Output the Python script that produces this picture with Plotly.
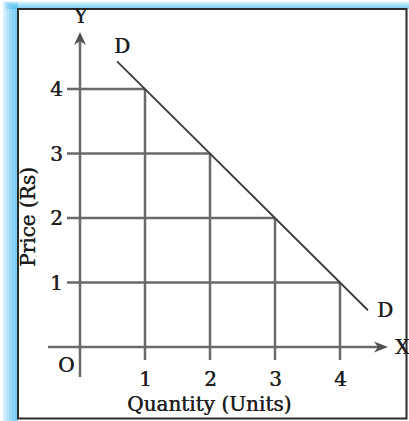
import plotly.graph_objects as go

# Demand schedule
quantity = [1, 2, 3, 4]
price = [4, 3, 2, 1]
# Demand curve drawn a little past the first and last points
curve_q = [0.57, 1, 2, 3, 4, 4.43]
curve_p = [4.43, 4, 3, 2, 1, 0.57]
x_ticks = ["1", "2", "3", "4"]
y_ticks = ["4", "3", "2", "1"]

W, H = 409, 421
X0, Y0, SX, SY = 80, 347, 65.0, 64.5   # origin pixel and pixels per unit


def qx(px):
    return (px - X0) / SX


def py(pxy):
    return (Y0 - pxy) / SY


def paper(px, pxy):
    return px / W, 1 - pxy / H


FONT = "DejaVu Serif"
TXT = "#1f1f1f"
GRID = "#6a6a6a"

fig = go.Figure()

# Dropped guide lines from each point on the curve to both axes
hx, hy, vx, vy = [], [], [], []
for q, p in zip(quantity, price):
    hx += [qx(67), q, None]
    hy += [p, p, None]
    vx += [q, q, None]
    vy += [py(360), p, None]
fig.add_trace(go.Scatter(x=hx, y=hy, mode="lines", line=dict(color=GRID, width=2.5),
                         hoverinfo="skip", showlegend=False))
fig.add_trace(go.Scatter(x=vx, y=vy, mode="lines", line=dict(color=GRID, width=2.5),
                         hoverinfo="skip", showlegend=False))

# Axes lines
fig.add_trace(go.Scatter(x=[qx(48), qx(378)], y=[0, 0], mode="lines",
                         line=dict(color=GRID, width=2.5), hoverinfo="skip", showlegend=False))
fig.add_trace(go.Scatter(x=[0, 0], y=[py(377), py(40)], mode="lines",
                         line=dict(color=GRID, width=2.5), hoverinfo="skip", showlegend=False))

# Demand curve
fig.add_trace(go.Scatter(x=curve_q, y=curve_p, mode="lines",
                         line=dict(color="#3a3a3a", width=1.8),
                         hoverinfo="skip", showlegend=False))

shapes = []
# Arrowheads
tip, back, notch, hw = py(32), py(45), py(41), 6 / SX
shapes.append(dict(type="path", xref="x", yref="y",
                   path=f"M 0,{tip} L {-hw},{back} L 0,{notch} L {hw},{back} Z",
                   fillcolor="#505050", line=dict(width=0)))
tipx, backx, notchx, hh = qx(388), qx(374), qx(378), 5.5 / SY
shapes.append(dict(type="path", xref="x", yref="y",
                   path=f"M {tipx},0 L {backx},{hh} L {notchx},0 L {backx},{-hh} Z",
                   fillcolor="#505050", line=dict(width=0)))

# Soft blue glow on the left and top of the frame
for start in [3, 6, 9, 12, 15]:
    xa, ya = paper(start, start * 0.55)
    xb, yb = paper(18, H)
    shapes.append(dict(type="rect", xref="paper", yref="paper", x0=xa, x1=xb, y0=yb, y1=ya,
                       fillcolor="#4fc1f3", opacity=0.24, line=dict(width=0), layer="below"))
    xa2, ya2 = paper(start + 2, start * 0.55)
    xb2, yb2 = paper(W, 9)
    shapes.append(dict(type="rect", xref="paper", yref="paper", x0=xa2, x1=xb2, y0=yb2, y1=ya2,
                       fillcolor="#4fc1f3", opacity=0.24, line=dict(width=0), layer="below"))

# Frame
fx0, fy0 = paper(18, 9)
fx1, fy1 = paper(406.5, 418.5)
shapes.append(dict(type="rect", xref="paper", yref="paper", x0=fx0, x1=fx1, y0=fy1, y1=fy0,
                   line=dict(color="#2b2b2b", width=2), fillcolor="rgba(0,0,0,0)"))
# White interior
shapes.append(dict(type="rect", xref="paper", yref="paper", x0=fx0, x1=fx1, y0=fy1, y1=fy0,
                   line=dict(width=0), fillcolor="white", layer="below"))

annotations = []


def label(x, y, text, size=20, **kw):
    annotations.append(dict(x=x, y=y, xref="x", yref="y", text=text, showarrow=False,
                            font=dict(family=FONT, size=size, color=TXT,
                                      shadow="0.5px 0px 0px #1f1f1f"),
                            xanchor="center", yanchor="middle", **kw))


for t, p in zip(y_ticks, price):
    label(qx(56), p, t)
for t, q in zip(x_ticks, quantity):
    label(q, py(379), t)
label(qx(66), py(365), "O")
label(0, py(16), "Y")
label(qx(402), 0, "X")
label(qx(122), py(46), "D")
label(qx(385), py(310), "D")
label(qx(209), py(404), "Quantity (Units)")
label(qx(28), py(217), "Price (Rs)", textangle=-90)

fig.update_layout(
    width=W, height=H,
    margin=dict(l=0, r=0, t=0, b=0),
    paper_bgcolor="white", plot_bgcolor="rgba(0,0,0,0)",
    xaxis=dict(range=[qx(0), qx(W)], visible=False, fixedrange=True),
    yaxis=dict(range=[py(H), py(0)], visible=False, fixedrange=True),
    shapes=shapes, annotations=annotations,
    showlegend=False,
)

fig.write_html("out.html", config={"displayModeBar": False})
